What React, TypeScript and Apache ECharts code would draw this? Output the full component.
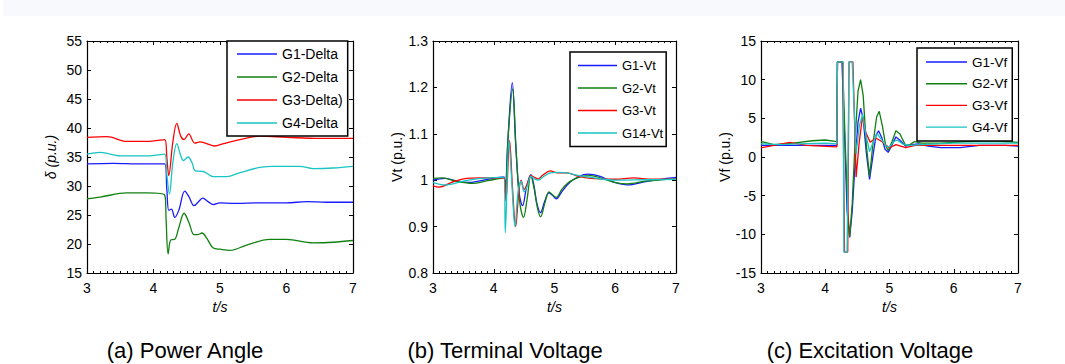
import React, { useEffect, useRef } from "react";
import * as echarts from "echarts";

const FONT = "'Liberation Sans', Arial, Helvetica, sans-serif";

// ---- (a) Power angle ----
const deltaNames = ["G1-Delta", "G2-Delta", "G3-Delta)", "G4-Delta"];
const g1Delta = [[3.0,33.8],[3.4,33.9],[3.8,33.8],[4.17,33.8],[4.2,29.5],[4.23,25.8],[4.27,26.0],[4.32,24.6],[4.38,25.8],[4.47,29.1],[4.53,28.2],[4.61,26.6],[4.67,27.2],[4.74,27.9],[4.82,27.3],[4.9,26.8],[5.0,27.1],[5.2,27.0],[5.6,27.1],[6.0,27.1],[6.3,27.3],[6.6,27.2],[7.0,27.2]];
const g2Delta = [[3.0,27.8],[3.2,28.1],[3.6,28.8],[3.9,28.8],[4.17,28.4],[4.19,24],[4.22,18.3],[4.26,20.7],[4.32,20.8],[4.38,22.8],[4.46,25.3],[4.53,23.8],[4.61,21.6],[4.66,21.6],[4.73,21.9],[4.8,21.0],[4.9,19.3],[5.0,19.1],[5.15,18.9],[5.4,19.8],[5.75,20.8],[6.0,20.8],[6.4,20.2],[6.7,20.3],[7.0,20.6]];
const g3Delta = [[3.0,38.4],[3.3,38.5],[3.6,37.7],[3.9,37.7],[4.17,38.0],[4.2,35],[4.23,31.8],[4.29,37.5],[4.35,40.8],[4.41,38.6],[4.46,38.0],[4.53,39.0],[4.62,37.4],[4.7,37.6],[4.8,37.3],[4.92,36.9],[5.05,37.3],[5.3,38.0],[5.6,38.6],[6.0,38.4],[6.5,38.2],[7.0,38.2]];
const g4Delta = [[3.0,35.5],[3.2,35.8],[3.5,35.2],[3.9,35.2],[4.17,35.5],[4.2,32],[4.24,28.6],[4.29,34],[4.35,37.3],[4.41,35.2],[4.45,34.4],[4.52,35.0],[4.58,34.0],[4.63,32.6],[4.75,32.5],[4.9,31.6],[5.1,31.6],[5.3,32.3],[5.6,33.2],[5.8,33.4],[6.2,33.4],[6.4,33.0],[6.7,33.1],[7.0,33.4]];

// ---- (b) Terminal voltage ----
const vtNames = ["G1-Vt", "G2-Vt", "G3-Vt", "G14-Vt"];
const g1Vt = [[3.0,1.0],[3.2,1.004],[3.4,0.998],[3.6,0.995],[3.9,1.002],[4.17,1.007],[4.19,0.97],[4.23,1.08],[4.305,1.21],[4.36,1.08],[4.42,0.97],[4.475,0.945],[4.54,0.985],[4.61,1.012],[4.66,0.99],[4.71,0.95],[4.77,0.93],[4.84,0.955],[4.91,0.973],[4.97,0.967],[5.03,0.96],[5.12,0.975],[5.25,0.995],[5.4,1.008],[5.55,1.013],[5.75,1.008],[5.95,0.997],[6.2,0.99],[6.5,0.997],[6.8,1.003],[7.0,1.006]];
const g2Vt = [[3.0,1.004],[3.15,1.005],[3.4,0.997],[3.65,0.993],[3.9,0.999],[4.17,1.005],[4.19,0.975],[4.24,1.1],[4.31,1.197],[4.37,1.06],[4.43,0.95],[4.49,0.92],[4.55,0.96],[4.61,1.01],[4.66,0.985],[4.72,0.94],[4.77,0.921],[4.84,0.95],[4.91,0.975],[4.97,0.968],[5.03,0.963],[5.12,0.98],[5.25,0.997],[5.45,1.008],[5.6,1.01],[5.8,1.003],[6.0,0.995],[6.2,0.992],[6.5,0.998],[7.0,1.003]];
const g3Vt = [[3.0,0.988],[3.1,0.985],[3.3,0.995],[3.5,1.003],[3.8,1.005],[4.17,1.005],[4.2,0.955],[4.26,1.085],[4.31,0.98],[4.36,0.9],[4.41,0.97],[4.45,1.0],[4.5,0.98],[4.56,0.995],[4.61,1.01],[4.67,1.006],[4.73,1.003],[4.8,1.01],[4.93,1.02],[5.05,1.016],[5.2,1.016],[5.4,1.008],[5.6,1.004],[6.0,1.002],[6.3,1.005],[6.6,1.002],[7.0,1.002]];
const g14Vt = [[3.0,0.995],[3.2,0.99],[3.5,0.998],[3.8,1.004],[4.17,1.006],[4.19,0.887],[4.25,1.085],[4.3,0.99],[4.35,0.9],[4.4,0.975],[4.45,0.998],[4.5,0.975],[4.56,0.99],[4.61,1.008],[4.67,1.003],[4.73,1.0],[4.8,1.006],[4.92,1.015],[5.05,1.017],[5.2,1.016],[5.4,1.01],[5.6,1.006],[6.0,1.0],[6.5,1.001],[7.0,1.002]];

// ---- (c) Excitation voltage ----
const vfNames = ["G1-Vf", "G2-Vf", "G3-Vf", "G4-Vf"];
const g1Vf = [[3.0,1.5],[3.5,1.5],[4.0,1.5],[4.18,1.5],[4.19,12.3],[4.26,12.3],[4.3,3],[4.34,-7],[4.38,-10.4],[4.42,-7],[4.47,0],[4.51,4.5],[4.55,6.3],[4.59,5],[4.64,0.5],[4.69,-2.9],[4.74,0],[4.79,2.8],[4.83,3.4],[4.88,2.5],[4.93,1.0],[4.98,0.6],[5.04,1.6],[5.1,2.6],[5.16,2.2],[5.25,1.4],[5.35,1.6],[5.45,1.7],[5.6,1.4],[5.8,1.2],[6.1,1.2],[6.4,1.5],[6.8,1.5],[7.0,1.4]];
const g2Vf = [[3.0,2.0],[3.2,1.6],[3.5,1.8],[3.8,2.1],[4.0,2.2],[4.18,2.0],[4.19,12.3],[4.27,12.3],[4.31,2],[4.35,-7],[4.38,-10.3],[4.42,-6],[4.47,3],[4.51,8.5],[4.55,10.0],[4.59,8],[4.64,1.5],[4.69,-2.5],[4.74,1.5],[4.8,5.2],[4.84,5.9],[4.89,4],[4.94,1.5],[4.98,0.8],[5.04,2.0],[5.1,3.4],[5.16,3.0],[5.25,1.5],[5.32,1.6],[5.39,2.0],[5.5,1.8],[5.8,1.8],[6.2,2.0],[6.6,2.1],[7.0,1.9]];
const g3Vf = [[3.0,1.2],[3.2,1.5],[3.45,1.9],[3.7,1.5],[4.18,1.3],[4.19,12.3],[4.27,12.3],[4.3,-12.3],[4.35,-12.3],[4.37,12.3],[4.43,12.3],[4.48,-2.6],[4.53,2],[4.58,5.2],[4.63,3.2],[4.7,1.9],[4.76,2.3],[4.8,2.4],[4.88,2.0],[4.95,1.5],[5.0,1.2],[5.1,1.6],[5.25,1.2],[5.4,1.5],[5.6,1.5],[6.0,1.5],[6.5,1.5],[7.0,1.5]];
const g4Vf = [[3.0,1.7],[3.3,1.6],[3.6,1.7],[4.0,1.8],[4.18,1.7],[4.19,12.3],[4.28,12.3],[4.29,-12.3],[4.34,-12.3],[4.37,12.3],[4.42,12.3],[4.48,0.4],[4.53,4],[4.58,5.5],[4.63,3],[4.69,0.7],[4.75,2],[4.81,3.0],[4.87,2.3],[4.95,1.4],[5.0,1.3],[5.07,2.0],[5.12,2.2],[5.2,1.7],[5.3,1.5],[5.5,1.6],[6.0,1.8],[6.5,1.8],[7.0,1.8]];

const xTicks = { min: 3, max: 7, interval: 1 };
const yRanges = [
  { min: 15, max: 55, interval: 5, name: "δ (p.u.)", italic: true },
  { min: 0.8, max: 1.3, interval: 0.1, name: "Vt (p.u.)", italic: false },
  { min: -15, max: 15, interval: 5, name: "Vf (p.u.)", italic: false },
];
const captions = ["(a) Power Angle", "(b) Terminal Voltage", "(c) Excitation Voltage"];
const colors = ["#1a1aff", "#108010", "#ff0000", "#19c4c4"];

export default function App() {
  const ref = useRef<HTMLDivElement>(null);
  useEffect(() => {
    if (!ref.current) return;
    const chart = echarts.init(ref.current, undefined, { renderer: "svg" });
    const grids = [
      { left: 87, top: 41, width: 266, height: 232 },
      { left: 433, top: 41, width: 243, height: 232 },
      { left: 761, top: 41, width: 257, height: 232 },
    ];
    const nameGaps = [29, 29, 26];
    const xAxes: any[] = [];
    const yAxes: any[] = [];
    grids.forEach((_, i) => {
      const common = {
        type: "value",
        gridIndex: i,
        ...xTicks,
        axisLine: { show: true, onZero: false, lineStyle: { color: "#000", width: 1.2 } },
        axisTick: { show: true, inside: true, length: 4, lineStyle: { color: "#000" } },
        minorTick: { show: true, splitNumber: 10, length: 2, lineStyle: { color: "#000" } },
        splitLine: { show: false },
      };
      xAxes.push({
        ...common,
        position: "bottom",
        axisLabel: { fontSize: 14, color: "#000", fontFamily: FONT, margin: 8 },
        name: "t/s",
        nameLocation: "middle",
        nameGap: 26,
        nameTextStyle: { fontSize: 14, fontStyle: "italic", color: "#000", fontFamily: FONT },
      });
      xAxes.push({ ...common, position: "top", axisLabel: { show: false } });
      const r = yRanges[i];
      const yc = {
        type: "value",
        gridIndex: i,
        min: r.min,
        max: r.max,
        interval: r.interval,
        axisLine: { show: true, onZero: false, lineStyle: { color: "#000", width: 1.2 } },
        axisTick: { show: true, inside: true, length: 4, lineStyle: { color: "#000" } },
        splitLine: { show: false },
      };
      yAxes.push({
        ...yc,
        position: "left",
        axisLabel: { fontSize: 14, color: "#000", fontFamily: FONT, margin: 5 },
        name: r.name,
        nameLocation: "middle",
        nameGap: nameGaps[i],
        nameTextStyle: { fontSize: 14, fontStyle: r.italic ? "italic" : "normal", color: "#000", fontFamily: FONT },
      });
      yAxes.push({ ...yc, position: "right", axisLabel: { show: false } });
    });

    const groups = [
      { names: deltaNames, data: [g1Delta, g2Delta, g3Delta, g4Delta], smooth: 0.35 },
      { names: vtNames, data: [g1Vt, g2Vt, g3Vt, g14Vt], smooth: 0.35 },
      { names: vfNames, data: [g1Vf, g2Vf, g3Vf, g4Vf], smooth: false },
    ];
    const series: any[] = [];
    groups.forEach((g, i) => {
      g.data.forEach((d, k) => {
        series.push({
          type: "line",
          name: g.names[k],
          xAxisIndex: i * 2,
          yAxisIndex: i * 2,
          data: d,
          symbol: "none",
          smooth: g.smooth,
          lineStyle: { color: colors[k], width: 1.3 },
          itemStyle: { color: colors[k] },
        });
      });
    });

    const legendBase = {
      orient: "vertical",
      icon: "path://M0,0 L40,0 L40,1.4 L0,1.4 Z",
      borderColor: "#000",
      borderWidth: 1.5,
      backgroundColor: "#fff",
      itemHeight: 14,
      selectedMode: false,
    };
    const legends = [
      { ...legendBase, left: 227, top: 41, data: deltaNames, itemWidth: 40, itemGap: 9, padding: [6, 5, 6, 10], textStyle: { fontSize: 14, color: "#000", fontFamily: FONT } },
      { ...legendBase, left: 570, top: 52, data: vtNames, itemWidth: 39, itemGap: 9.5, padding: [7, 3, 7, 8], textStyle: { fontSize: 13, color: "#000", fontFamily: FONT } },
      { ...legendBase, left: 917, top: 48, data: vfNames, itemWidth: 41, itemGap: 7.7, padding: [7, 5, 7, 9], textStyle: { fontSize: 13.5, color: "#000", fontFamily: FONT } },
    ];

    const captionX = [185, 505, 870];
    chart.setOption({
      animation: false,
      backgroundColor: "#fff",
      grid: grids,
      xAxis: xAxes,
      yAxis: yAxes,
      legend: legends,
      series,
      graphic: [
        { type: "rect", z: -10, shape: { x: 3, y: 0, width: 1062, height: 16 }, style: { fill: "#f8f9fc" } },
        ...captions.map((c, i) => ({
          type: "text",
          style: { text: c, x: captionX[i], y: 350, textAlign: "center", textVerticalAlign: "middle", fontSize: 22, fill: "#000", fontFamily: FONT },
        })),
      ],
    });
    return () => chart.dispose();
  }, []);
  return <div ref={ref} style={{ position: "fixed", left: 0, top: 0, width: 1065, height: 364 }} />;
}
